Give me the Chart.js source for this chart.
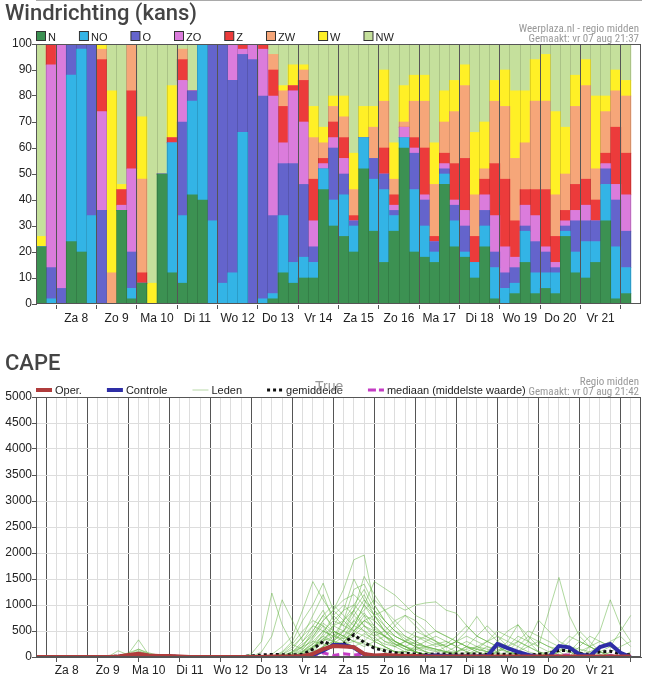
<!DOCTYPE html>
<html>
<head>
<meta charset="utf-8">
<script src="https://cdn.jsdelivr.net/npm/chart.js@4.4.1/dist/chart.umd.min.js"></script>
<style>
html, body { margin: 0; padding: 0; background: #fff; overflow: hidden; }
#wrap { position: relative; width: 659px; height: 681px; }
#box1 { position: absolute; left: 0; top: 0; width: 659px; height: 330px; }
#box2 { position: absolute; left: 0; top: 330px; width: 659px; height: 351px; }
</style>
</head>
<body>
<div id="wrap">
  <div id="box1"><canvas id="windChart"></canvas></div>
  <div id="box2"><canvas id="capeChart"></canvas></div>
</div>
<script>
// dagen onder de x-as
const dagen = ['Za 8', 'Zo 9', 'Ma 10', 'Di 11', 'Wo 12', 'Do 13', 'Vr 14', 'Za 15', 'Zo 16', 'Ma 17', 'Di 18', 'Wo 19', 'Do 20', 'Vr 21'];
const richtingen = ['N', 'NO', 'O', 'ZO', 'Z', 'ZW', 'W', 'NW'];

// kans (%) per windrichting, 60 tijdstappen van 6 uur
const windN  = [22,0,0,24,20,0,0,0,36,2, 8,0,50,12,8,42,40,0,0,0, 0,0,0,2,12,8,10,10,44,30, 26,20,52,28,16,28,60,20,18,16, 46,22,18,10,22,2,0,4,16,4, 6,4,26,12,10,16,32,2,4,6];
const windNO = [0,2,0,64,78,34,0,0,0,4, 0,0,0,50,26,36,60,32,8,12, 66,0,2,2,22,8,8,6,8,10, 16,10,12,20,28,6,4,24,12,4, 4,10,2,6,8,12,6,4,12,8, 6,8,2,8,14,8,14,20,10,10];
const windO  = [0,12,6,12,2,66,36,0,0,14, 0,0,0,0,36,4,0,68,92,74, 30,94,78,30,20,38,28,6,0,20, 8,2,0,8,6,2,0,14,10,4, 2,6,10,0,6,6,6,6,2,12, 8,2,2,12,8,8,6,18,14,8];
const windZO = [0,78,94,0,0,0,38,0,2,32, 0,0,0,0,16,0,0,0,0,14, 2,6,18,46,8,28,24,10,2,4, 6,0,0,0,0,2,4,2,2,0, 2,2,6,0,6,14,10,4,8,10, 2,2,2,4,6,0,2,6,14,6];
const windZ  = [0,8,0,0,0,0,20,0,6,30, 4,0,0,2,8,0,0,0,0,0, 2,0,2,10,14,2,16,16,2,6, 8,2,0,0,10,4,0,4,18,2, 4,14,20,10,6,20,26,14,6,10, 22,10,4,10,10,8,4,22,16,10];
const windZW = [0,0,0,0,0,0,4,12,0,18, 36,0,0,0,4,0,0,0,0,0, 0,0,0,6,6,0,4,16,6,6, 8,10,0,12,18,6,2,14,18,20, 12,20,28,16,4,24,28,24,18,34, 34,16,14,30,36,12,16,14,22,20];
const windW  = [4,0,0,0,0,0,2,70,2,0, 24,8,0,20,0,0,0,0,0,0, 0,0,0,0,2,8,2,12,6,4, 8,14,12,8,12,14,14,10,10,16, 12,12,8,24,18,8,14,26,20,16, 18,32,18,12,10,28,6,8,6,22];
const windNW = [74,0,0,0,0,0,0,18,54,0, 28,92,50,16,2,18,0,0,0,0, 0,0,0,4,16,8,8,24,32,20, 20,42,24,24,10,38,16,12,12,38, 18,14,8,34,30,14,10,18,18,6, 4,26,32,12,6,20,20,10,14,18];

// CAPE (J/kg)
const operCape = [0,0,0,0,0,0,0,0,10,40, 60,30,20,20,10,0,0,0,0,0, 0,0,0,10,10,10,20,60,150,210, 200,190,60,30,40,30,20,20,10,10, 10,10,10,10,10,10,10,10,10,10, 10,10,10,10,10,10,10,10,10,10];
const controleCape = [0,0,0,0,0,0,0,0,0,10, 30,20,10,10,0,0,0,0,0,0, 0,0,0,0,0,0,10,40,120,230, 230,180,50,20,20,10,10,10,20,30, 20,10,10,10,20,250,170,100,40,0, 0,210,185,50,20,190,250,80,0,0];
const gemiddeldeCape = [5,5,5,5,5,5,5,10,15,25, 45,25,20,15,10,5,5,5,5,5, 10,20,40,50,45,40,50,150,300,220, 250,430,280,170,120,80,70,60,50,60, 60,60,60,60,50,60,50,50,40,50, 70,130,120,70,50,100,110,60,40,50];
const mediaanCape = [0,0,0,0,0,0,0,0,0,0, 0,0,0,0,0,0,0,0,0,0, 0,0,0,0,0,0,10,40,80,30, 60,40,60,20,0,0,0,0,0,0, 0,0,0,0,0,0,0,0,0,0, 0,30,40,0,0,0,30,0,0,0];
const ledenCape = [
  [0,0,0,0,0,0,0,0,120,40, 0,0,0,0,0,0,0,0,0,0, 0,60,300,1230,620,240,150,380,700,900, 1300,1870,1960,1000,700,500,350,250,180,120, 80,50,0,0,0,0,0,0,0,0, 0,0,0,0,0,0,0,0,0,0],
  [0,0,0,0,0,0,0,0,0,60, 330,40,0,0,0,0,0,0,0,0, 0,0,100,400,1100,700,300,500,800,600, 500,700,900,1100,900,600,400,300,200,150, 100,80,50,100,200,150,100,50,0,0, 0,100,200,150,100,50,0,0,0,0],
  [0,0,0,0,0,0,0,0,20,80, 150,60,20,10,0,0,0,0,0,0, 0,0,0,50,200,400,900,1450,1100,800, 600,900,1550,1200,900,700,500,400,300,200, 250,400,600,400,300,200,100,50,0,0, 0,0,0,0,0,0,0,0,0,0],
  [0,0,0,0,0,0,0,0,0,50, 150,80,30,10,0,0,0,0,0,0, 0,0,0,0,100,300,700,1000,1420,900, 700,1300,1400,1000,700,500,300,200,150,100, 200,300,200,100,50,0,0,100,300,710, 500,300,200,100,0,0,0,0,0,0],
  [0,0,0,0,0,0,0,0,0,30, 120,50,20,0,0,0,0,0,0,0, 0,0,0,0,50,150,400,800,1200,700, 900,1500,1100,800,500,400,300,250,200,150, 100,100,150,200,150,100,200,400,300,200, 870,1530,800,400,200,100,50,0,0,0],
  [0,0,0,0,0,0,0,0,0,20, 100,60,30,20,10,0,0,0,0,0, 0,0,0,0,0,100,300,600,900,500, 400,600,1000,1450,1320,1190,1000,800,700,500, 400,300,200,150,100,80,50,100,200,300, 200,150,100,50,0,0,0,0,0,0],
  [0,0,0,0,0,0,0,0,0,0, 0,20,40,30,20,0,0,0,0,0, 0,0,0,0,80,250,500,700,600,300, 500,800,1100,900,600,400,300,200,100,50, 0,0,100,200,300,400,300,200,100,50, 0,0,0,100,200,300,200,100,0,0],
  [0,0,0,0,0,0,0,0,0,0, 0,0,0,0,0,0,0,0,0,0, 0,0,0,0,50,200,400,600,500,400, 700,1000,1300,900,700,500,400,300,200,150, 100,50,0,0,100,300,500,620,400,200, 100,50,0,0,0,0,0,0,100,200],
  [0,0,0,0,0,0,0,0,0,0, 0,0,0,0,0,0,0,0,0,0, 0,0,0,0,0,0,100,300,500,700, 600,500,700,800,900,1000,900,1000,1040,1060, 900,840,600,400,300,200,100,50,0,0, 0,0,0,0,0,0,0,0,0,0],
  [0,0,0,0,0,0,0,0,0,0, 0,0,0,0,0,0,0,0,0,0, 0,0,0,0,0,50,200,500,800,1000, 800,600,500,400,500,700,800,600,400,300, 200,300,500,780,500,300,200,100,50,0, 0,0,0,0,0,0,0,0,0,0],
  [0,0,0,0,0,0,0,0,0,0, 0,0,0,0,0,0,0,0,0,0, 0,0,0,0,0,0,100,200,400,300, 200,500,800,700,500,300,200,100,50,0, 0,0,0,0,0,100,300,620,300,100, 0,0,0,0,200,500,1100,600,300,100],
  [0,0,0,0,0,0,0,0,0,0, 0,0,0,0,0,0,0,0,0,0, 0,0,0,0,0,0,50,150,300,500, 400,300,200,300,400,300,200,100,0,0, 0,0,0,0,0,0,0,0,0,0, 0,0,100,300,200,100,200,500,800,1220],
  [0,0,0,0,0,0,0,0,0,0, 0,0,0,0,0,0,0,0,0,0, 0,0,0,0,0,80,200,450,700,900, 1100,1200,1000,700,500,300,200,100,50,0, 0,0,50,150,300,500,400,300,200,100, 50,0,0,0,0,0,0,0,0,0],
  [0,0,0,0,0,0,0,0,0,0, 0,0,0,0,0,0,0,0,0,0, 0,0,0,0,0,0,0,100,300,600, 900,1000,800,500,400,600,800,700,500,300, 100,0,0,0,0,0,0,0,0,0, 0,0,0,200,400,300,200,100,0,0],
  [0,0,0,0,0,0,0,0,0,0, 0,0,0,0,0,0,0,0,0,0, 0,0,0,0,0,0,50,200,300,400, 300,400,600,500,300,200,300,500,400,300, 200,100,200,400,600,400,200,100,0,0, 0,0,0,0,0,0,0,0,0,0],
  [0,0,0,0,0,0,0,0,0,0, 0,0,0,0,0,0,0,0,0,0, 0,0,0,0,0,0,0,50,200,300, 250,600,1000,800,500,300,200,100,0,0, 0,0,0,0,0,0,100,300,500,400, 300,200,100,0,0,0,0,0,0,0],
  [0,0,0,0,0,0,0,0,0,0, 0,0,0,0,0,0,0,0,0,0, 0,0,0,0,0,0,0,0,100,250, 400,700,500,300,200,100,100,200,300,400, 300,200,100,50,0,0,0,0,0,0, 0,0,0,0,0,0,0,0,0,0],
  [0,0,0,0,0,0,0,0,0,0, 0,0,0,0,0,0,0,0,0,0, 0,0,0,0,0,50,150,350,600,450, 300,200,300,500,400,300,200,150,100,50, 0,100,200,150,100,50,0,0,0,0, 0,0,0,0,0,0,100,200,300,200],
  [0,0,0,0,0,0,0,0,0,0, 0,0,0,0,0,0,0,0,0,0, 0,0,0,0,30,100,200,300,250,200, 300,500,700,600,400,200,100,50,0,0, 0,0,0,0,0,0,0,0,0,0, 0,100,300,500,300,100,0,0,0,0],
  [0,0,0,0,0,0,0,0,0,0, 0,0,0,0,0,0,0,0,0,0, 0,0,0,0,0,0,0,0,200,400, 500,400,300,200,100,0,0,0,0,0, 0,0,0,0,0,0,0,0,0,0, 0,0,0,0,0,0,0,0,0,0],
  [0,0,0,0,0,0,0,0,0,0, 0,0,0,0,0,0,0,0,0,0, 0,0,0,0,0,0,0,100,200,300, 700,900,600,400,200,100,50,0,0,0, 0,0,0,0,0,0,0,0,0,0, 0,0,0,0,0,0,0,0,0,0],
  [0,0,0,0,0,0,0,0,0,0, 0,0,0,0,0,0,0,0,0,0, 0,0,0,0,0,0,100,250,500,400, 350,600,850,600,400,250,150,100,50,0, 0,0,0,0,0,0,0,0,0,0, 0,0,0,0,0,0,0,0,0,0],
  [0,0,0,0,0,0,0,0,0,0, 0,0,0,0,0,0,0,0,0,0, 0,0,0,0,0,0,80,200,350,300, 250,300,450,350,250,200,300,400,350,250, 200,300,400,300,200,100,200,300,200,100, 50,0,0,0,0,0,0,0,0,0],
  [0,0,0,0,0,0,0,0,0,0, 0,0,0,0,0,0,0,0,0,0, 0,0,0,0,0,40,120,250,400,600, 700,500,400,300,200,100,50,0,0,0, 100,200,300,200,100,0,0,0,0,0, 100,200,400,300,200,100,0,0,0,0],
  [0,0,0,0,0,0,0,0,0,0, 0,0,0,0,0,0,0,0,0,0, 0,0,0,0,0,0,0,150,450,800, 1000,800,600,450,300,250,200,300,400,500, 400,300,200,100,0,0,0,0,0,0, 0,0,0,0,0,0,0,0,0,0],
  [0,0,0,0,0,0,0,0,0,0, 0,0,0,0,0,0,0,0,0,0, 0,0,0,0,0,0,0,0,100,300, 500,900,1200,800,600,400,300,200,100,0, 0,0,0,0,0,0,0,0,0,0, 0,0,0,0,0,0,0,0,0,0],
  [0,0,0,0,0,0,0,0,0,0, 0,0,0,0,0,0,0,0,0,0, 0,0,0,0,0,0,60,180,350,500, 400,300,250,200,150,100,100,150,200,250, 300,200,100,0,0,0,0,200,400,300, 200,100,0,0,0,0,0,0,0,0],
  [0,0,0,0,0,0,0,0,0,0, 0,0,0,0,0,0,0,0,0,0, 0,0,0,0,0,100,250,400,650,500, 350,450,700,550,400,250,150,100,50,0, 0,0,0,0,0,0,0,0,0,0, 0,0,0,0,100,200,300,400,200,100]
];

const windKleuren = ['#3c9152', '#33b4e6', '#6464cc', '#db7cdc', '#ec3b3b', '#f6a679', '#fff026', '#c5e09c'];

// label "Za 8" hoort bij stap 3, "Zo 9" bij stap 7, enz.
const tijdLabels = windN.map((v, i) => (i % 4 === 3 ? dagen[(i - 3) / 4] : ''));

Chart.defaults.font.family = '"Liberation Sans", Arial, sans-serif';
Chart.defaults.font.size = 12;
Chart.defaults.color = '#222';

// titel, bron, legenda en kader rond het plotgebied
const kopPlugin = {
  id: 'kop',
  afterDraw(chart, args, o) {
    const { ctx, chartArea: a } = chart;
    ctx.save();
    ctx.strokeStyle = '#555';
    ctx.lineWidth = 1;
    ctx.strokeRect(Math.round(a.left) + 0.5, Math.round(a.top) + 0.5, Math.round(a.right - a.left) - 1, Math.round(a.bottom - a.top) - 1);

    ctx.textBaseline = 'alphabetic';
    ctx.textAlign = 'left';
    ctx.fillStyle = '#444';
    ctx.font = '500 22px Roboto';
    ctx.fillText(o.titel, 5, o.titelY);

    ctx.textAlign = 'right';
    ctx.fillStyle = '#999';
    ctx.font = '11px "Liberation Sans Narrow", "Roboto Condensed", "Liberation Sans"';
    o.bron.forEach((t, i) => ctx.fillText(t, a.right - 2, o.bronY + i * 10));

    ctx.textAlign = 'left';
    ctx.font = '11px "Liberation Sans"';
    let x = a.left;
    const y = o.legendaY;
    o.items.forEach(it => {
      if (it.vak) {
        ctx.fillStyle = it.kleur;
        ctx.fillRect(x + 0.5, y - 9.5, 9, 9);
        ctx.strokeStyle = '#333';
        ctx.setLineDash([]);
        ctx.lineWidth = 1;
        ctx.strokeRect(x + 0.5, y - 9.5, 9, 9);
        x += 12;
      } else {
        ctx.strokeStyle = it.kleur;
        ctx.lineWidth = it.dikte;
        ctx.setLineDash(it.streep || []);
        ctx.beginPath();
        ctx.moveTo(x, y - 4);
        ctx.lineTo(x + 16, y - 4);
        ctx.stroke();
        x += 19;
      }
      ctx.fillStyle = '#222';
      ctx.fillText(it.tekst, x, y);
      x += ctx.measureText(it.tekst).width + o.tussen;
    });
    if (o.extra) {
      ctx.fillStyle = '#999';
      ctx.font = '14px "Liberation Sans"';
      ctx.fillText(o.extra.tekst, o.extra.x, o.extra.y);
    }
    ctx.restore();
  }
};

const windData = [windN, windNO, windO, windZO, windZ, windZW, windW, windNW];

new Chart(document.getElementById('windChart'), {
  type: 'bar',
  data: {
    labels: tijdLabels,
    datasets: richtingen.map((r, i) => ({
      label: r,
      data: windData[i],
      backgroundColor: windKleuren[i],
      borderWidth: 0,
      barPercentage: 1,
      categoryPercentage: 1
    }))
  },
  options: {
    responsive: true,
    maintainAspectRatio: false,
    animation: false,
    layout: { padding: { left: 0, right: 18, top: 44, bottom: 0 } },
    plugins: {
      legend: { display: false },
      tooltip: { enabled: false },
      kop: {
        titel: 'Windrichting (kans)', titelY: 20,
        bron: ['Weerplaza.nl - regio midden', 'Gemaakt: vr 07 aug 21:37'], bronY: 32,
        legendaY: 41, tussen: 23,
        items: richtingen.map((r, i) => ({ tekst: r, kleur: windKleuren[i], vak: true }))
      }
    },
    scales: {
      x: {
        stacked: true,
        offset: true,
        grid: {
          offset: true,
          z: 1,
          color: c => (c.index % 4 === 2 ? '#555' : 'rgba(0,0,0,0.13)'),
          tickColor: c => (c.index % 4 === 2 ? '#555' : 'rgba(0,0,0,0)'),
          tickLength: 5
        },
        border: { color: '#555' },
        ticks: { autoSkip: false, maxRotation: 0, labelOffset: 5, padding: 2, callback: (v, i) => tijdLabels[i] },
        afterFit: s => { s.height = 26; }
      },
      y: {
        stacked: true,
        min: 0,
        max: 100,
        ticks: { stepSize: 10, padding: 0 },
        grid: { drawOnChartArea: false, tickLength: 4, tickColor: '#555' },
        border: { color: '#555' },
        afterFit: s => { s.width = 36; }
      }
    }
  },
  plugins: [kopPlugin]
});

const capeSets = [
  { label: 'Oper.', data: operCape, borderColor: '#b03c3c', borderWidth: 4, order: 0 },
  { label: 'Controle', data: controleCape, borderColor: '#2e2ea6', borderWidth: 4, order: 1 },
  { label: 'gemiddelde', data: gemiddeldeCape, borderColor: '#111', borderWidth: 3, borderDash: [3, 3], order: 2 },
  { label: 'mediaan (middelste waarde)', data: mediaanCape, borderColor: '#c43cc4', borderWidth: 3, borderDash: [7, 4], order: 3 }
].concat(ledenCape.map((d, i) => ({
  label: 'Leden', data: d, borderColor: 'rgba(95,178,62,0.5)', borderWidth: 1, order: 10 + i
})));

new Chart(document.getElementById('capeChart'), {
  type: 'line',
  data: { labels: tijdLabels, datasets: capeSets },
  options: {
    responsive: true,
    maintainAspectRatio: false,
    animation: false,
    elements: { point: { radius: 0 }, line: { tension: 0, borderCapStyle: 'butt' } },
    layout: { padding: { left: 0, right: 18, top: 67, bottom: 0 } },
    plugins: {
      legend: { display: false },
      tooltip: { enabled: false },
      kop: {
        titel: 'CAPE', titelY: 40,
        bron: ['Regio midden', 'Gemaakt: vr 07 aug 21:42'], bronY: 55,
        legendaY: 64, tussen: 25,
        items: [
          { tekst: 'Oper.', kleur: '#b03c3c', dikte: 4 },
          { tekst: 'Controle', kleur: '#2e2ea6', dikte: 4 },
          { tekst: 'Leden', kleur: '#b8d8a8', dikte: 1 },
          { tekst: 'gemiddelde', kleur: '#111', dikte: 3, streep: [3, 3] },
          { tekst: 'mediaan (middelste waarde)', kleur: '#c43cc4', dikte: 3, streep: [8, 3] }
        ],
        extra: { tekst: 'True', x: 315, y: 61 }
      }
    },
    scales: {
      x: {
        offset: false,
        grid: {
          offset: false,
          color: c => (c.index % 4 === 1 ? '#555' : '#ddd'),
          tickColor: c => (c.index % 4 === 2 ? '#555' : 'rgba(0,0,0,0)'),
          tickLength: 5
        },
        border: { color: '#555' },
        ticks: { autoSkip: false, maxRotation: 0, padding: 1, callback: (v, i) => tijdLabels[i] },
        afterFit: s => { s.height = 24; }
      },
      y: {
        min: 0,
        max: 5000,
        ticks: { stepSize: 500, padding: 0, callback: v => String(v) },
        grid: { color: '#ddd', tickLength: 4, tickColor: '#555' },
        border: { color: '#555' },
        afterFit: s => { s.width = 36; }
      }
    }
  },
  plugins: [kopPlugin]
});
</script>
</body>
</html>
